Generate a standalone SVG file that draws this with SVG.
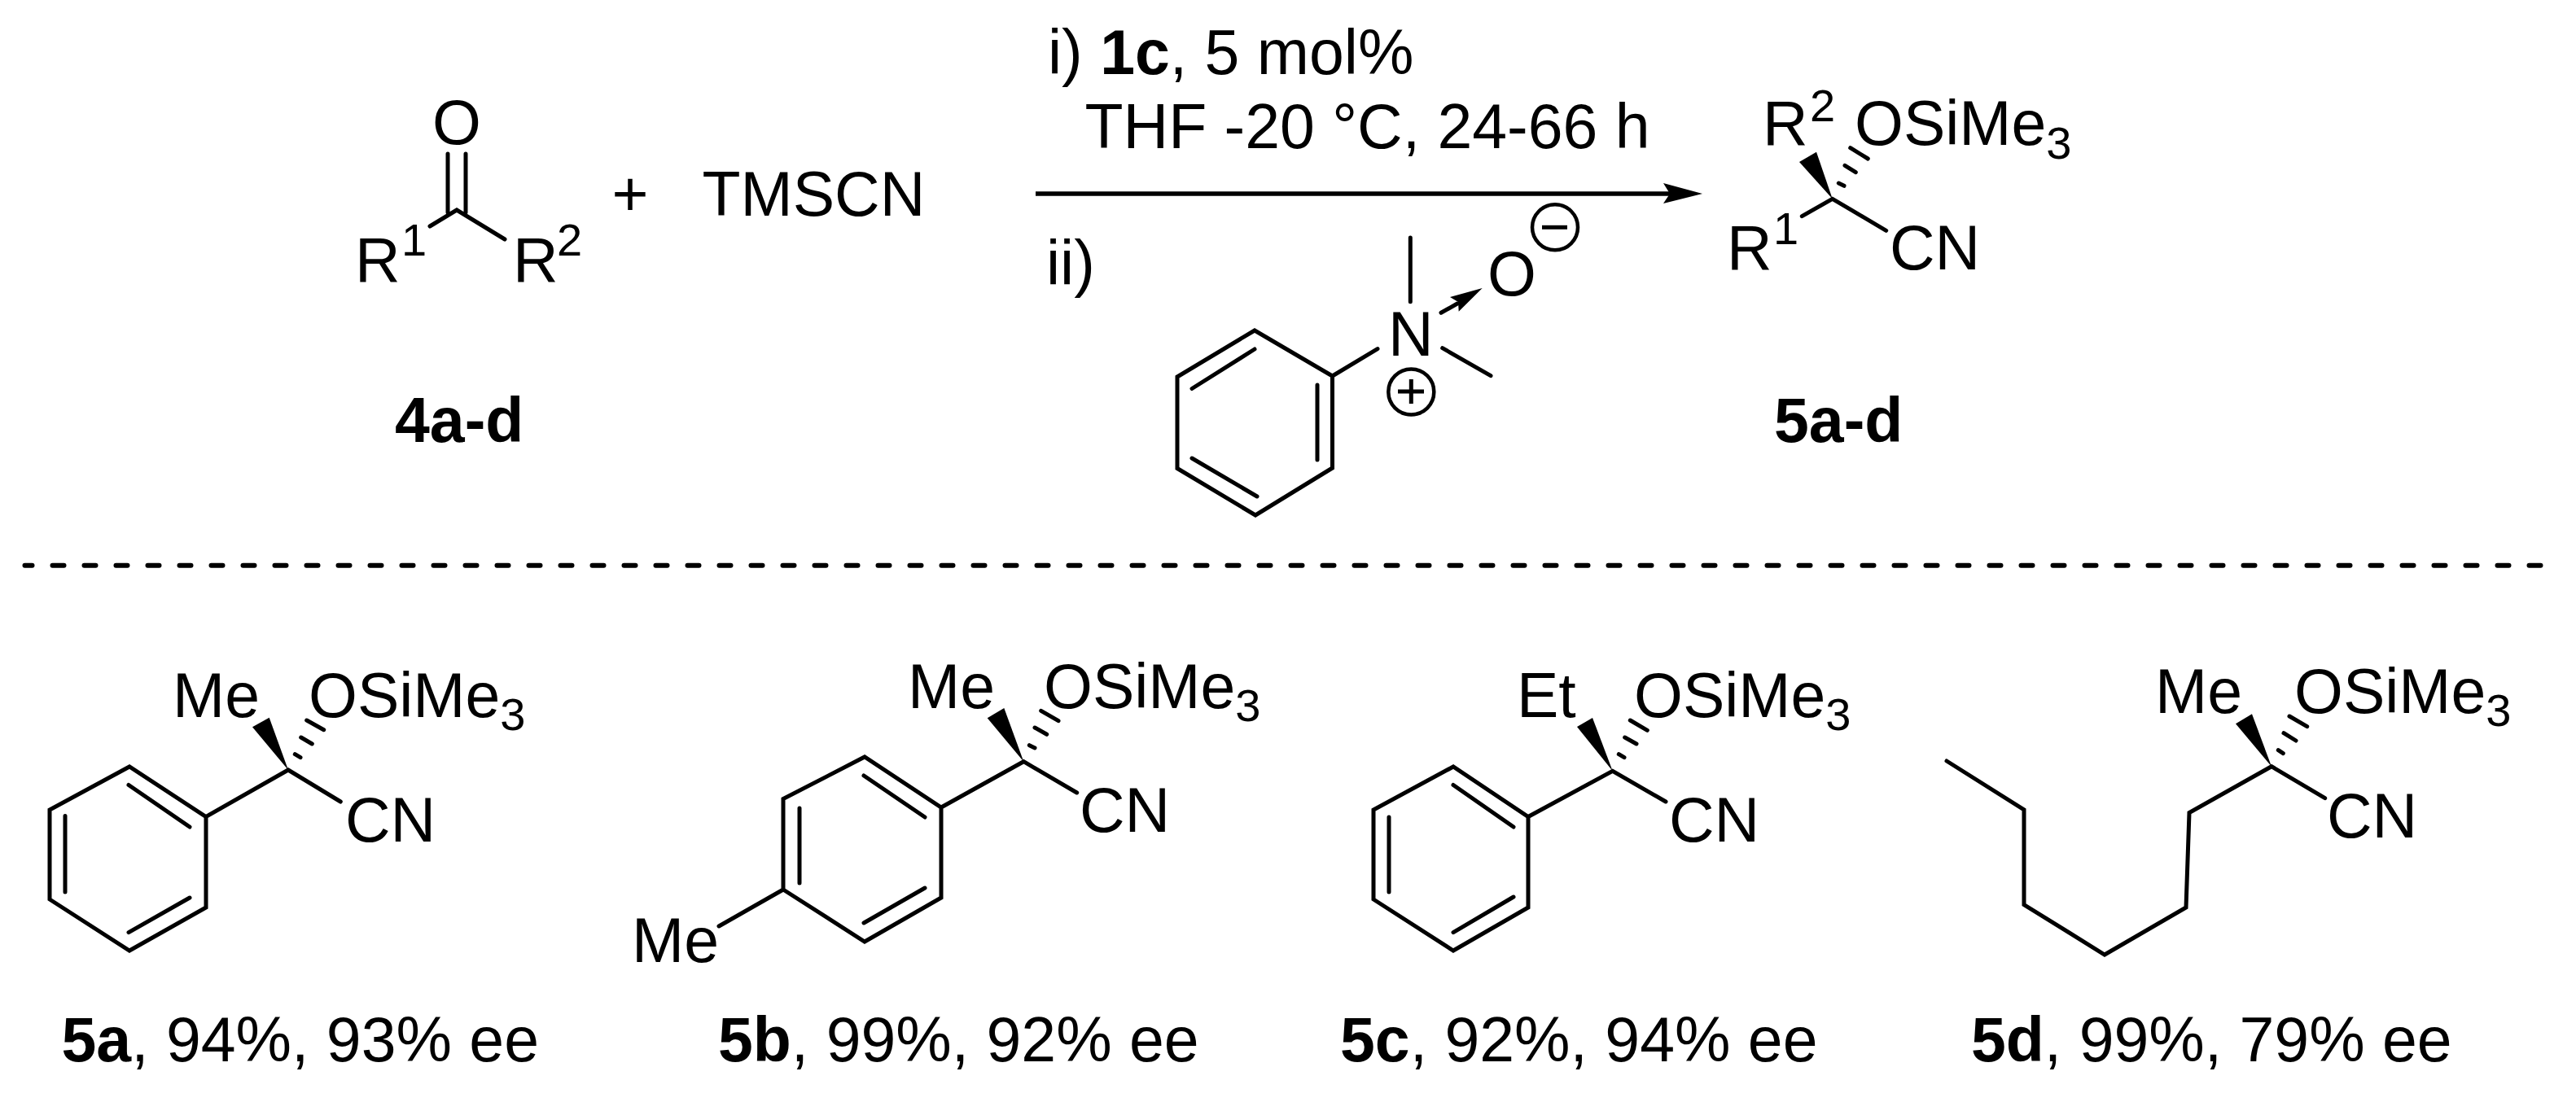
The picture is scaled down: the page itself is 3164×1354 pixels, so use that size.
<svg xmlns="http://www.w3.org/2000/svg" width="3164" height="1354" viewBox="0 0 3164 1354">
<style>
text{font-family:"Liberation Sans",Arial,sans-serif;font-size:77px;fill:#000}
.b{font-weight:bold}
.s{font-size:56px}
.bond{fill:none;stroke:#000;stroke-width:5;stroke-linecap:round;stroke-linejoin:miter}
.hash{fill:none;stroke:#000;stroke-width:5;stroke-linecap:round}
.solid{fill:#000;stroke:none}
</style>
<rect width="3164" height="1354" fill="#fff"/>
<g id="connectors">
<line class="bond" x1="1272" y1="238" x2="2055" y2="238" style="stroke-width:5.5;stroke-linecap:butt"/>
<polygon class="solid" points="2091,238 2043,225 2051,238 2043,250"/>
<line x1="30.5" y1="694.7" x2="3122" y2="694.7" fill="none" stroke="#000" stroke-width="6" stroke-linecap="round" stroke-dasharray="14 25" stroke-dashoffset="5"/>
</g>
<g id="node-4">
<path class="bond" d="M550,189V261M572,189V261M528,278L561,258L620,294"/>
<text x="531" y="177">O</text>
<text x="436" y="346">R</text><text class="s" x="493" y="314">1</text>
<text x="630" y="346">R</text><text class="s" x="684" y="314">2</text>
<text class="b" x="485" y="543">4a-d</text>
</g>
<g id="node-plus"><text x="751.5" y="264.5">+</text></g>
<g id="node-tmscn"><text x="862.5" y="264.5">TMSCN</text></g>
<g id="node-conditions">
<text x="1287" y="90.5">i) <tspan class="b">1c</tspan>, 5 mol%</text>
<text x="1332.5" y="181.5">THF -20 °C, 24-66 h</text>
<text x="1285" y="350">ii)</text>
</g>
<g id="node-amine-oxide">
<path class="bond" d="M1732.3,292V370.7M1771.7,427.7L1831,461.7M1692,428.6L1636.5,462L1541,406L1446,463V575.5L1542,633L1636.5,575V462M1464,477.5L1541,429M1618,473V565M1464,563L1544,610"/>
<path class="bond" d="M1770,384.3L1790,373"/>
<polygon class="solid" points="1820.7,354 1781,365 1791,371 1791.7,382.7"/>
<text x="1705" y="436.5">N</text>
<text x="1827" y="363">O</text>
<circle cx="1910" cy="279.3" r="28" fill="none" stroke="#000" stroke-width="4.5"/>
<path class="bond" style="stroke-linecap:butt" d="M1894,279.3H1925"/>
<circle cx="1733.3" cy="481.5" r="28" fill="none" stroke="#000" stroke-width="4.5"/>
<path class="bond" style="stroke-linecap:butt" d="M1717,481H1749M1733.3,466V496"/>
</g>
<g id="node-5a-d">
<polygon class="solid" points="2250.7,244.3 2210,199 2231,186.7"/>
<path class="bond" d="M2213.3,265.7L2250.7,244.3L2316.7,283.3"/>
<path class="hash" d="M2258.3,225L2265,228.3M2266,203.3L2279.3,211.7M2272.7,181.7L2294.3,195"/>
<text x="2165" y="178">R</text><text class="s" x="2223" y="149">2</text>
<text x="2278" y="178">OSiMe<tspan class="s" dy="17">3</tspan></text>
<text x="2121" y="330.5">R</text><text class="s" x="2178" y="300">1</text>
<text x="2321" y="330.5">CN</text>
<text class="b" x="2179" y="543">5a-d</text>
</g>
<g id="node-5a">
<polygon class="solid" points="354,946 310,893.3 330.7,881.7"/>
<path class="bond" d="M418.3,985L354,946L253,1003.5L159,942L61,995V1105L159,1168L253,1115V1003.5M158,964.5L233,1016M80,1002.4V1096M158,1145.6L233,1103"/>
<path class="hash" d="M362.3,926.7L369,930.7M369.7,906L383.3,914M376.7,885L397.7,896.7"/>
<text x="212" y="881">Me</text>
<text x="379" y="881">OSiMe<tspan class="s" dy="16">3</tspan></text>
<text x="424" y="1034">CN</text>
<text x="75.5" y="1303.5"><tspan class="b">5a</tspan>, 94%, 93% ee</text>
</g>
<g id="node-5b">
<polygon class="solid" points="1257.3,935.7 1212.7,882.3 1233.3,870"/>
<path class="bond" d="M1322.7,974L1257.3,935.7L1156,992L1062,930L962,981.6V1093L1062,1157L1156,1103V992M1061,953L1136,1004M982,993V1085M1061,1134L1136,1091M962,1093L883,1138"/>
<path class="hash" d="M1264.3,915.7L1271,919M1271,894L1285.7,902.3M1278.7,873.3L1300,885.7"/>
<text x="1115" y="870">Me</text>
<text x="1282" y="870">OSiMe<tspan class="s" dy="16">3</tspan></text>
<text x="1326" y="1022">CN</text>
<text x="776" y="1182">Me</text>
<text x="882" y="1303.5"><tspan class="b">5b</tspan>, 99%, 92% ee</text>
</g>
<g id="node-5c">
<polygon class="solid" points="1980.7,947.3 1937,893 1956,882"/>
<path class="bond" d="M2046,985L1980.7,947.3L1877,1003.5L1785,942L1687,995V1105L1785,1168L1877,1115V1003.5M1785,964.5L1859,1016M1706,1004V1096M1785,1145.6L1859,1102"/>
<path class="hash" d="M1988.3,926.7L1995,930.7M1995.7,906L2010,914M2002.3,885L2023.3,897.3"/>
<text x="1863" y="881">Et</text>
<text x="2007" y="881">OSiMe<tspan class="s" dy="16">3</tspan></text>
<text x="2050" y="1034">CN</text>
<text x="1646" y="1303.5"><tspan class="b">5c</tspan>, 92%, 94% ee</text>
</g>
<g id="node-5d">
<polygon class="solid" points="2790,941.7 2746,889.3 2766,877.3"/>
<path class="bond" d="M2855.7,980.7L2790,941.7L2689,998.6L2685,1115L2585,1173L2486,1111.5V995L2391,935"/>
<path class="hash" d="M2798.3,921.7L2804.3,925.7M2805,900.7L2820,910M2812,880L2833.7,892.7"/>
<text x="2647" y="876">Me</text>
<text x="2818" y="876">OSiMe<tspan class="s" dy="16">3</tspan></text>
<text x="2858" y="1029">CN</text>
<text x="2421" y="1303.5"><tspan class="b">5d</tspan>, 99%, 79% ee</text>
</g>
</svg>
